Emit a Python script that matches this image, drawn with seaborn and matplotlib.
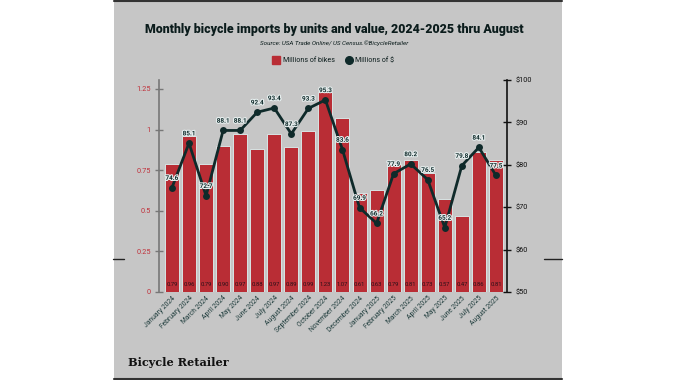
import numpy as np
import pandas as pd
import matplotlib
matplotlib.use('Agg')
import matplotlib.pyplot as plt
import matplotlib.patheffects as pe
from matplotlib.lines import Line2D
from matplotlib.patches import Rectangle
import seaborn as sns

# Data
months = ['January 2024', 'February 2024', 'March 2024', 'April 2024', 'May 2024',
          'June 2024', 'July 2024', 'August 2024', 'September 2024', 'October 2024',
          'November 2024', 'December 2024', 'January 2025', 'February 2025',
          'March 2025', 'April 2025', 'May 2025', 'June 2025', 'July 2025', 'August 2025']
bikes = [0.79, 0.96, 0.79, 0.90, 0.97, 0.88, 0.97, 0.89, 0.99, 1.23,
         1.07, 0.61, 0.63, 0.79, 0.81, 0.73, 0.57, 0.47, 0.86, 0.81]
dollars = [74.6, 85.1, 72.7, 88.1, 88.1, 92.4, 93.4, 87.3, 93.3, 95.3,
           83.6, 69.9, 66.2, 77.9, 80.2, 76.5, 65.2, 79.8, 84.1, 77.5]
left_ticks = [0, 0.25, 0.5, 0.75, 1, 1.25]
left_labels = ['0', '0.25', '0.5', '0.75', '1', '1.25']
right_ticks = [50, 60, 70, 80, 90, 100]
right_labels = ['$50', '$60', '$70', '$80', '$90', '$100']

df = pd.DataFrame({'month': months, 'bikes': bikes, 'dollars': dollars})
df['pos'] = np.arange(len(df))

sns.set_style('white')
plt.rcParams['font.family'] = ['Roboto', 'DejaVu Sans']

PANEL = '#c6c6c6'
RED = '#b92d35'
DARK = '#0f2a2a'
TEAL = '#1d3b3b'

fig = plt.figure(figsize=(6.76, 3.8), dpi=100, facecolor='white')

# gray background panel with dark top/bottom rules
fig.patches.append(Rectangle((114 / 676, 0), 448 / 676, 1, transform=fig.transFigure,
                             facecolor=PANEL, edgecolor='none', zorder=-5))
for yy in [1 - 1 / 380, 1.5 / 380]:
    fig.lines.append(Line2D([114 / 676, 562 / 676], [yy, yy], transform=fig.transFigure,
                            color='#333333', lw=1.5, zorder=-4))
for x0, x1 in [(113, 124), (544, 562)]:
    fig.lines.append(Line2D([x0 / 676, x1 / 676], [1 - 259 / 380] * 2,
                            transform=fig.transFigure, color='#222222', lw=1, zorder=-4))

ax = fig.add_axes([159 / 676, 1 - 292 / 380, 348 / 676, 212 / 380])
ax.set_facecolor(PANEL)

sns.barplot(data=df, x='month', y='bikes', color=RED, saturation=1, width=0.82,
            edgecolor='#d8e4e4', linewidth=0.7, ax=ax, zorder=2)
ax.set_ylim(0, 1.305)
ax.set_xlim(-0.76, len(df) - 0.35)
ax.set_yticks(left_ticks)
ax.set_yticklabels(left_labels)
ax.tick_params(axis='y', colors='#777777', labelcolor='#c0303a', labelsize=5.3,
               direction='inout', length=6, width=1, pad=3)
ax.tick_params(axis='x', length=0, labelsize=4.9, labelcolor=TEAL, pad=2)
plt.setp(ax.get_xticklabels(), rotation=45, ha='right', rotation_mode='anchor')
ax.set_xlabel('')
ax.set_ylabel('')
for side in ['top', 'right', 'bottom']:
    ax.spines[side].set_visible(False)
ax.spines['left'].set_color('#777777')
ax.spines['left'].set_linewidth(1.2)

for p, v in zip(df['pos'], df['bikes']):
    ax.text(p, 0.045, f'{v:.2f}', ha='center', va='center', fontsize=4.2,
            color='#2a1018', zorder=5)

ax2 = ax.twinx()
sns.lineplot(data=df, x='pos', y='dollars', color=DARK, lw=2, marker='o',
             markersize=5, markeredgewidth=0, ax=ax2, zorder=4)
ax2.set_ylim(50, 100)
ax2.set_xlim(-0.76, len(df) - 0.35)
ax2.set_yticks(right_ticks)
ax2.set_yticklabels(right_labels)
ax2.tick_params(axis='y', colors='#111111', labelcolor='#111111', labelsize=5.3,
                direction='inout', length=6, width=1, pad=3)
ax2.set_ylabel('')
for side in ['top', 'left', 'bottom']:
    ax2.spines[side].set_visible(False)
ax2.spines['right'].set_color('#111111')
ax2.spines['right'].set_linewidth(1.2)

for p, v in zip(df['pos'], df['dollars']):
    t = ax2.text(p, v + 1.6, f'{v:.1f}', ha='center', va='bottom', fontsize=4.6,
                 color=DARK, fontweight='bold', zorder=6)
    t.set_path_effects([pe.withStroke(linewidth=1.6, foreground='#e6eeee')])

# titles
fig.text(334 / 676, 1 - 30 / 380, 'Monthly bicycle imports by units and value, 2024-2025 thru August',
         ha='center', va='center', fontsize=8.9, fontweight='black', color='#0b1c1c')
fig.text(334 / 676, 1 - 43.5 / 380, 'Source: USA Trade Online/ US Census.©BicycleRetailer',
         ha='center', va='center', fontsize=4.5, style='italic', color='#0b1c1c')

# legend
handles = [Line2D([], [], marker='s', ls='none', color=RED, markersize=5.5),
           Line2D([], [], marker='o', ls='none', color=DARK, markersize=5.5)]
fig.legend(handles, ['Millions of bikes', 'Millions of $'], loc='center',
           bbox_to_anchor=(334 / 676, 1 - 61 / 380), ncol=2, frameon=False,
           fontsize=5.1, handletextpad=0.5, handlelength=0.8, columnspacing=1.6,
           labelcolor='#0b1c1c')

# logo
fig.text(128 / 676, 1 - 362 / 380, 'Bicycle Retailer', ha='left', va='center',
         fontsize=8.1, fontweight='bold', family='DejaVu Serif', color='#111111')

fig.savefig('out.png', dpi=100, facecolor='white')
